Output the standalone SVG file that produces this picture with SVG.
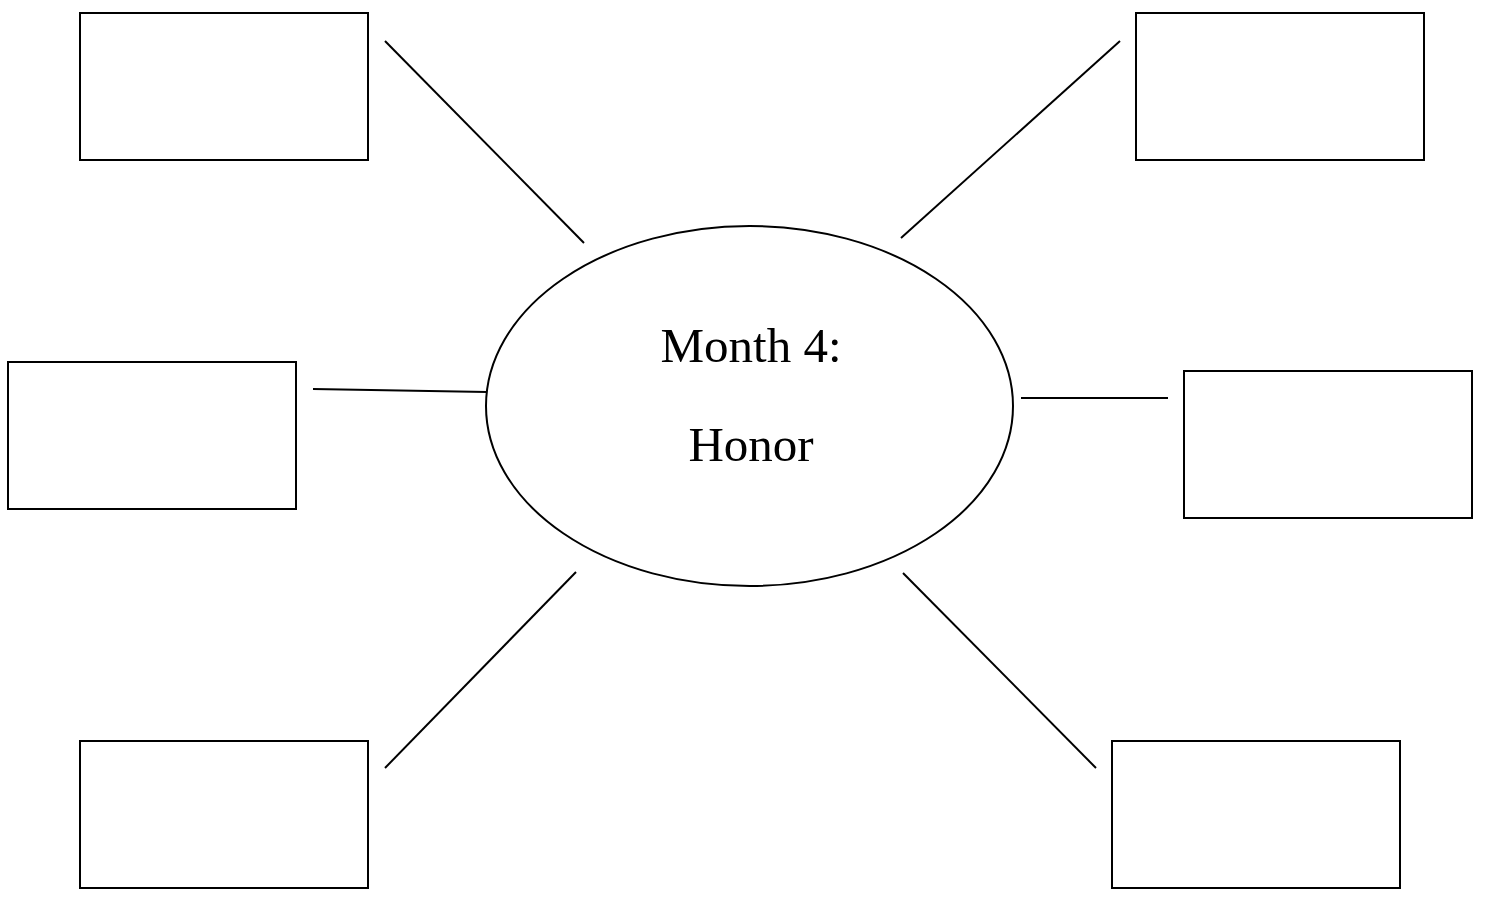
<svg xmlns="http://www.w3.org/2000/svg" width="1486" height="898" viewBox="0 0 1486 898">
<style>
.box{fill:#fff;stroke:#000;stroke-width:2}
.ln{stroke:#000;stroke-width:2;fill:none}
.t{font-family:"Liberation Serif","Times New Roman",serif;font-size:49px;fill:#000;text-anchor:middle}
</style>
<rect width="1486" height="898" fill="#fff"/>
<g id="connectors">
<line class="ln" x1="385" y1="41" x2="584" y2="243"/>
<line class="ln" x1="1120" y1="41" x2="901" y2="238"/>
<line class="ln" x1="313" y1="389" x2="487" y2="392"/>
<line class="ln" x1="1021" y1="398" x2="1168" y2="398"/>
<line class="ln" x1="385" y1="768" x2="576" y2="572"/>
<line class="ln" x1="903" y1="573" x2="1096" y2="768"/>
</g>
<g id="center">
<ellipse class="box" cx="749.5" cy="406" rx="263.5" ry="180"/>
<text class="t" x="751" y="362">Month 4:</text>
<text class="t" x="751" y="461">Honor</text>
</g>
<g id="box-tl"><rect class="box" x="80" y="13" width="288" height="147"/></g>
<g id="box-tr"><rect class="box" x="1136" y="13" width="288" height="147"/></g>
<g id="box-ml"><rect class="box" x="8" y="362" width="288" height="147"/></g>
<g id="box-mr"><rect class="box" x="1184" y="371" width="288" height="147"/></g>
<g id="box-bl"><rect class="box" x="80" y="741" width="288" height="147"/></g>
<g id="box-br"><rect class="box" x="1112" y="741" width="288" height="147"/></g>
</svg>
